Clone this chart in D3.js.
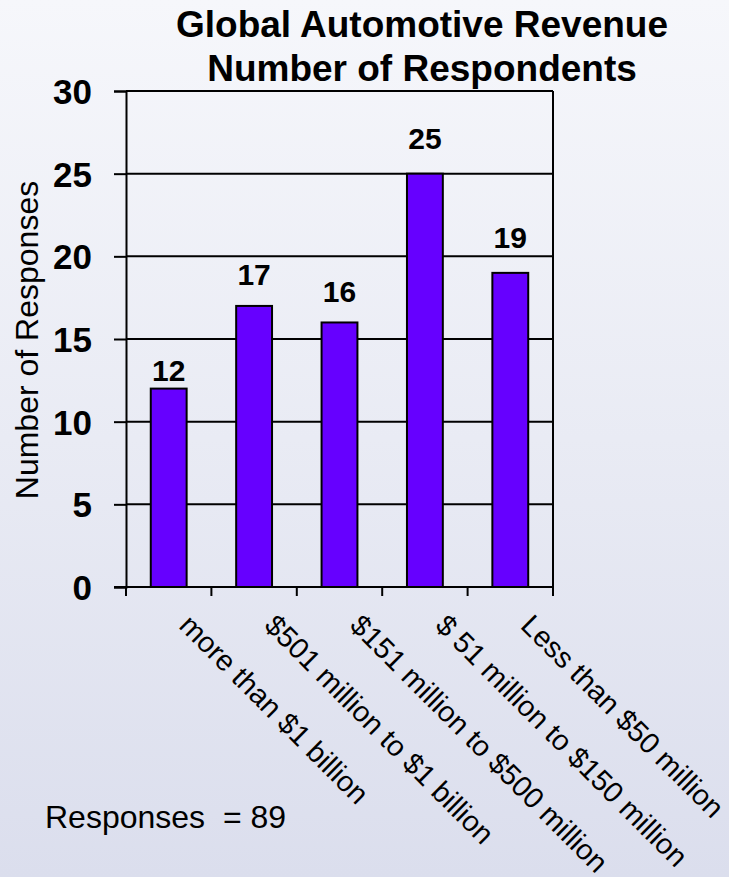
<!DOCTYPE html>
<html>
<head>
<meta charset="utf-8">
<script src="https://cdn.jsdelivr.net/npm/d3@7"></script>
<style>
html,body{margin:0;padding:0;}
svg{display:block;font-family:"Liberation Sans",Arial,Helvetica,sans-serif;}
</style>
</head>
<body>
<svg id="chart" width="729" height="877"></svg>
<script>
const categories = ["more than $1 billion", "$501 million to $1 billion", "$151 million to $500 million", "$ 51 million to $150 million", "Less than $50 million"];
const responses = [12, 17, 16, 25, 19];
const yTicks = [0, 5, 10, 15, 20, 25, 30];
const titleLines = ["Global Automotive Revenue", "Number of Respondents"];
const yAxisTitle = "Number of Responses";
const footnote = "Responses  = 89";

(function(){
const svg = d3.select("#chart");
const W = 729, H = 877;

const defs = svg.append("defs");
const grad = defs.append("linearGradient").attr("id","bg").attr("x1",0).attr("y1",0).attr("x2",0).attr("y2",1);
grad.append("stop").attr("offset","0%").attr("stop-color","#f6f7fb");
grad.append("stop").attr("offset","50%").attr("stop-color","#e9ebf4");
grad.append("stop").attr("offset","100%").attr("stop-color","#dbdeed");
svg.append("rect").attr("width",W).attr("height",H).attr("fill","url(#bg)");

const pLeft = 126, pRight = 553, pTop = 91, pBottom = 587;
const x = d3.scaleBand().domain(categories).range([pLeft, pRight]).padding(0);
const y = d3.scaleLinear().domain([0, 30]).range([pBottom, pTop]);

// gridlines
svg.append("g").selectAll("line").data(yTicks.filter(t => t > 0)).join("line")
  .attr("x1", pLeft).attr("x2", pRight)
  .attr("y1", d => y(d)).attr("y2", d => y(d))
  .attr("stroke", "#000").attr("stroke-width", 2);

// right border
svg.append("line").attr("x1", pRight).attr("x2", pRight).attr("y1", y(30)).attr("y2", y(0))
  .attr("stroke","#000").attr("stroke-width",2);

// y axis
const yAxis = svg.append("g").attr("transform", `translate(${pLeft},0)`)
  .call(d3.axisLeft(y).tickValues(yTicks).tickSize(12).tickPadding(22));
yAxis.select(".domain").attr("stroke","#000").attr("stroke-width",2);
yAxis.selectAll(".tick line").attr("stroke","#000").attr("stroke-width",2);
yAxis.selectAll(".tick text").attr("font-size",35).attr("font-weight","bold")
  .attr("fill","#000").attr("font-family","'Liberation Sans',Arial,sans-serif").attr("dy","0.36em");

// bars
const bw = x.bandwidth() * 0.42;
svg.append("g").selectAll("rect").data(responses).join("rect")
  .attr("x", (d,i) => x(categories[i]) + x.bandwidth()/2 - bw/2)
  .attr("y", d => y(d))
  .attr("width", bw)
  .attr("height", d => y(0) - y(d))
  .attr("fill", "#6600ff")
  .attr("stroke", "#000").attr("stroke-width", 2);

// x axis line and boundary ticks
svg.append("line").attr("x1", pLeft - 12).attr("x2", pRight).attr("y1", y(0)).attr("y2", y(0))
  .attr("stroke","#000").attr("stroke-width",2);
const bounds = categories.map(c => x(c)).concat([x.range()[1]]);
svg.append("g").selectAll("line").data(bounds).join("line")
  .attr("x1", d => d).attr("x2", d => d)
  .attr("y1", y(0)).attr("y2", y(0) + 9)
  .attr("stroke","#000").attr("stroke-width",2);

// value labels (label gap above bar, as placed in the original)
const labelGap = [8, 21, 20, 25, 25];
svg.append("g").selectAll("text").data(responses).join("text")
  .attr("x", (d,i) => x(categories[i]) + x.bandwidth()/2)
  .attr("y", (d,i) => y(d) - labelGap[i])
  .attr("text-anchor","middle")
  .attr("font-size",30).attr("font-weight","bold").attr("fill","#000")
  .text(d => d);

// x labels rotated
svg.append("g").selectAll("text").data(categories).join("text")
  .attr("transform", d => `translate(${x(d) + x.bandwidth()/2 + 9},627) rotate(45)`)
  .attr("text-anchor","start")
  .attr("font-size",29).attr("fill","#000")
  .text(d => d);

// title
const title = svg.append("text").attr("text-anchor","middle")
  .attr("font-size",37).attr("font-weight","bold").attr("fill","#000");
title.selectAll("tspan").data(titleLines).join("tspan")
  .attr("x", 422).attr("y", (d,i) => i === 0 ? 37 : 81).text(d => d);

// y axis title
svg.append("text")
  .attr("transform","translate(38,340) rotate(-90)")
  .attr("text-anchor","middle")
  .attr("font-size",32).attr("fill","#000")
  .text(yAxisTitle);

// footnote
svg.append("text").attr("x",45).attr("y",828)
  .attr("font-size",32).attr("fill","#000")
  .attr("xml:space","preserve").style("white-space","pre")
  .text(footnote);
})();
</script>
</body>
</html>
